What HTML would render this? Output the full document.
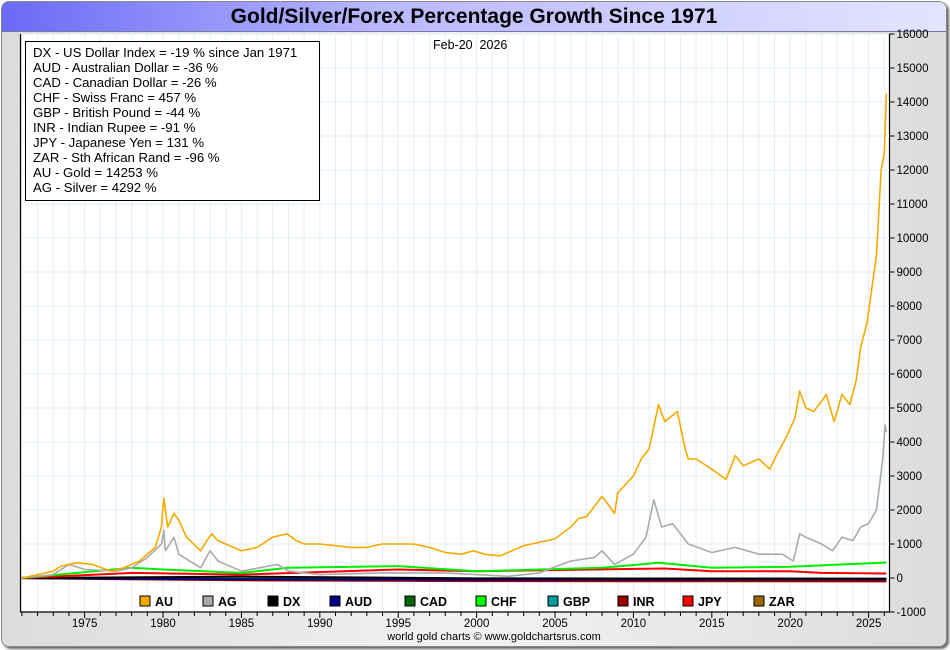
<!DOCTYPE html>
<html><head><meta charset="utf-8"><style>
body{margin:0;width:950px;height:650px;overflow:hidden;background:#fff;font-family:"Liberation Sans",sans-serif}
#frame{position:absolute;left:1px;top:1px;width:944px;height:644px;border:1px solid #888;border-radius:8px;background:linear-gradient(90deg,#dcdcdc,#f2f2f2 50%,#dcdcdc);box-shadow:2px 2px 2px #666;overflow:hidden}
#titlebar{position:absolute;left:0;top:0;width:944px;height:29px;background:linear-gradient(90deg,#6a6af5,#b8b8ff 40%,#e4e4ff);border-bottom:1px solid #7777aa}
#title{position:absolute;left:0;top:3px;width:944px;text-align:center;font-weight:bold;font-size:21px;color:#000}
svg{position:absolute;left:0;top:0}
</style></head><body>
<div id="frame">
<div id="titlebar"><div id="title">Gold/Silver/Forex Percentage Growth Since 1971</div></div>
</div>
<svg id="chart" width="950" height="650"></svg>
<script>
const yTicks=[-1000,0,1000,2000,3000,4000,5000,6000,7000,8000,9000,10000,11000,12000,13000,14000,15000,16000];
const xTickYears=[1975,1980,1985,1990,1995,2000,2005,2010,2015,2020,2025];
const auYears=[1971,1972,1973,1973.5,1974.5,1975.5,1976.7,1977.5,1978.5,1979.5,1979.9,1980.05,1980.3,1980.7,1981,1981.5,1982.4,1982.8,1983.1,1983.5,1984,1985,1986,1987,1987.9,1988.5,1989,1990,1991,1992,1993,1994,1995,1996,1997,1998,1999,1999.8,2000.5,2001.5,2002,2003,2004,2005,2006,2006.5,2007,2008,2008.8,2009,2010,2010.5,2011,2011.6,2012,2012.8,2013.3,2013.5,2014,2015,2015.9,2016.5,2017,2018,2018.7,2019,2019.7,2020.3,2020.6,2021,2021.5,2022,2022.3,2022.8,2023.3,2023.8,2024.2,2024.5,2024.9,2025.2,2025.5,2025.8,2026,2026.13];
const auValues=[0,100,200,350,450,400,200,300,500,900,1500,2350,1500,1900,1700,1200,800,1100,1300,1100,1000,800,900,1200,1300,1100,1000,1000,950,900,900,1000,1000,1000,900,750,700,800,700,650,750,950,1050,1150,1500,1750,1800,2400,1900,2500,3000,3500,3800,5100,4600,4900,3800,3500,3500,3200,2900,3600,3300,3500,3200,3500,4100,4700,5500,5000,4900,5200,5400,4600,5400,5100,5800,6800,7500,8500,9500,12000,12500,14253];
const agYears=[1971,1973,1974,1975,1977,1978,1979,1979.9,1980.05,1980.15,1980.7,1981,1982.4,1983,1983.5,1985,1987.3,1988,1990,1994,1998,2002,2004,2006,2007.5,2008,2008.8,2010,2010.8,2011.3,2011.8,2012.5,2013.5,2015,2016.5,2018,2019.5,2020.2,2020.6,2021,2022,2022.7,2023.3,2024,2024.5,2025,2025.5,2025.9,2026.05,2026.13];
const agValues=[0,100,400,250,200,300,600,1000,1400,800,1200,700,300,800,500,200,400,200,100,150,150,50,150,500,600,800,400,700,1200,2300,1500,1600,1000,750,900,700,700,500,1300,1200,1000,800,1200,1100,1500,1600,2000,3500,4500,4292];
const chfYears=[1971,1978,1980,1985,1988,1995,2000,2008,2011.6,2015,2020,2026.13];
const chfValues=[0,300,250,150,300,350,200,300,450,300,330,457];
const jpyYears=[1971,1978,1985,1995,2000,2012,2015,2020,2022,2026.13];
const jpyValues=[0,150,100,250,200,280,200,200,150,131];
const fxYears=[1971,1985,2000,2026.13];
const dxValues=[0,40,-10,-19];
const audValues=[0,-40,-50,-36];
const cadValues=[0,-20,-10,-26];
const gbpValues=[0,-50,-30,-44];
const inrValues=[0,-60,-85,-91];
const zarValues=[0,-60,-90,-96];
const legendNames=["AU","AG","DX","AUD","CAD","CHF","GBP","INR","JPY","ZAR"];
const legendColors=["#f5aa00","#aaaaaa","#000000","#000080","#006600","#00ff00","#009999","#990000","#ff0000","#996600"];
const infoLines=["DX - US Dollar Index = -19 % since Jan 1971","AUD - Australian Dollar = -36 %","CAD - Canadian Dollar = -26 %","CHF - Swiss Franc = 457 %","GBP - British Pound = -44 %","INR - Indian Rupee = -91 %","JPY - Japanese Yen = 131 %","ZAR - Sth African Rand = -96 %","AU - Gold = 14253 %","AG - Silver = 4292 %"];

const L=20.5,R=889.5,T=34,B=612;
const X=y=>21.9+(y-1971)*15.68;
const Y=v=>578-v*0.034;
const svg=document.getElementById('chart');
const NS='http://www.w3.org/2000/svg';
function mk(tag,attrs,parent){const e=document.createElementNS(NS,tag);for(const k in attrs)e.setAttribute(k,attrs[k]);(parent||svg).appendChild(e);return e;}
const bg=mk('rect',{x:L,y:T,width:R-L,height:B-T,fill:'#fff'});


for(let yr=1971;yr<=2026;yr++){const g=mk('line',{x1:X(yr),x2:X(yr),y1:T,y2:B,stroke:'#e2eef6','stroke-width':1});

}
yTicks.forEach(v=>{const g=mk('line',{x1:L,x2:R,y1:Y(v),y2:Y(v),stroke:'#e2eef6','stroke-width':1});

});
function series(xs,vs,color,name,w){const p=mk('polyline',{points:xs.map((x,i)=>X(x)+','+Y(vs[i])).join(' '),fill:'none',stroke:color,'stroke-width':w||1.6,'stroke-linejoin':'round'});

}
series(fxYears,zarValues,'#996600','zar-line');
series(fxYears,gbpValues,'#009999','gbp-line');
series(fxYears,cadValues,'#006600','cad-line');
series(fxYears,inrValues,'#990000','inr-line',2.5);
series(fxYears,audValues,'#000080','aud-line',2);
series(fxYears,dxValues,'#000000','dx-line',2);
series(jpyYears,jpyValues,'#ff0000','jpy-line',2);
series(chfYears,chfValues,'#00ee00','chf-line',2);
series(agYears,agValues,'#aaaaaa','ag-line');
series(auYears,auValues,'#f5aa00','au-line');
const ax=mk('path',{d:`M${L},${T}V${B}H${R}V${T}`,fill:'none',stroke:'#000','stroke-width':1.2});


yTicks.forEach(v=>{mk('line',{x1:R,x2:R+5,y1:Y(v),y2:Y(v),stroke:'#000'});
const t=mk('text',{x:R+7,y:Y(v)+4,'font-size':11.5,fill:'#000'});t.textContent=v;

});
for(let yr=1971;yr<=2026;yr++){mk('line',{x1:X(yr),x2:X(yr),y1:B,y2:B+(yr%5==0?6:4),stroke:'#000'});}
xTickYears.forEach(yr=>{const t=mk('text',{x:X(yr),y:B+15,'font-size':11.5,'text-anchor':'middle'});t.textContent=yr;

});
const lgX=[140,203,268,330,405,476,548,618,683,754];
legendNames.forEach((n,i)=>{const g=mk('g',{});


mk('rect',{x:lgX[i],y:596,width:10,height:10,fill:legendColors[i],stroke:'#000','stroke-width':1},g);
const t=mk('text',{x:lgX[i]+15,y:606,'font-size':12.5,'font-weight':'bold'},g);t.textContent=n;});
const ib=mk('rect',{x:25.5,y:41.5,width:294,height:159,fill:'#fff',stroke:'#000'});


infoLines.forEach((s,i)=>{const t=mk('text',{x:33,y:57+i*15,'font-size':13.2});t.textContent=s;

});
const d=mk('text',{x:433,y:49,'font-size':12.5});d.textContent='Feb-20\u00a0\u00a02026';


const f=mk('text',{x:494,y:640,'font-size':11,'text-anchor':'middle'});f.textContent='world gold charts © www.goldchartsrus.com';


</script>
</body></html>
